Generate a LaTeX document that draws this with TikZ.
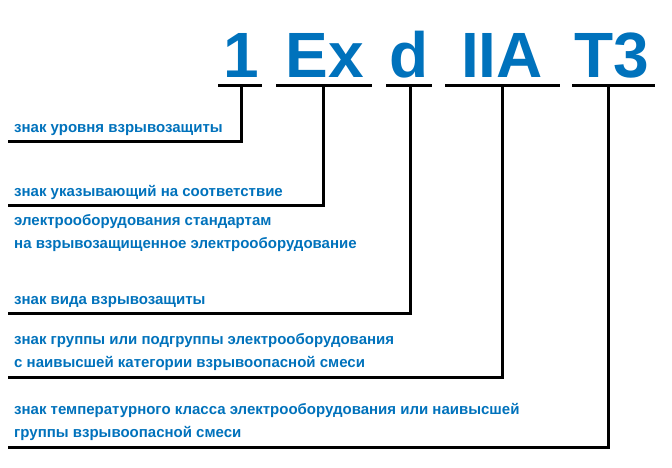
\documentclass[tikz,border=0pt]{standalone}
\usepackage{fontspec}
\setmainfont{Liberation Sans}
\definecolor{bl}{HTML}{0072BC}
\begin{document}
\begin{tikzpicture}[x=1pt,y=-1pt,
 big/.style={text=bl,font=\fontsize{64}{64}\selectfont\bfseries,inner sep=0,anchor=base},
 lbl/.style={text=bl,font=\fontsize{15}{23}\selectfont\bfseries,inner sep=0,anchor=base west,align=left},
 ln/.style={line width=3pt,black}]
\useasboundingbox[fill=white] (0,0) rectangle (672,468);
\node[big] (c1) at (241,78) {1};
\node[big] (c2) at (325,78) {Ex};
\node[big] (c3) at (409,78) {d};
\node[big] (c4) at (502,78) {IIA};
\node[big] (c5) at (612,78) {T3};
\coordinate (u1a) at (218,86); \coordinate (u1b) at (262,86);
\coordinate (u2a) at (276,86); \coordinate (u2b) at (372,86);
\coordinate (u3a) at (386,86); \coordinate (u3b) at (432,86);
\coordinate (u4a) at (445,86); \coordinate (u4b) at (560,86);
\coordinate (u5a) at (572,86); \coordinate (u5b) at (655,86);
\draw[ln] (u1a)--(u1b); \draw[ln] (u2a)--(u2b); \draw[ln] (u3a)--(u3b);
\draw[ln] (u4a)--(u4b); \draw[ln] (u5a)--(u5b);
\coordinate (e1) at (8,142); \coordinate (e2) at (8,205); \coordinate (e3) at (8,313);
\coordinate (e4) at (8,377); \coordinate (e5) at (8,447);
\draw[ln] (241,86) |- (e1);
\draw[ln] (323,86) |- (e2);
\draw[ln] (410,86) |- (e3);
\draw[ln] (502,86) |- (e4);
\draw[ln] (608,86) |- (e5);
\node[lbl] (t1) at (14,133) {знак уровня взрывозащиты};
\node[lbl] (t2) at (14,196) {знак указывающий на соответствие};
\node[lbl] (t3) at (14,248) {электрооборудования стандартам\\на взрывозащищенное электрооборудование};
\node[lbl] (t4) at (14,304) {знак вида взрывозащиты};
\node[lbl] (t5) at (14,367) {знак группы или подгруппы электрооборудования\\с наивысшей категории взрывоопасной смеси};
\node[lbl] (t6) at (14,437) {знак температурного класса электрооборудования или наивысшей\\группы взрывоопасной смеси};
\end{tikzpicture}
\end{document}
